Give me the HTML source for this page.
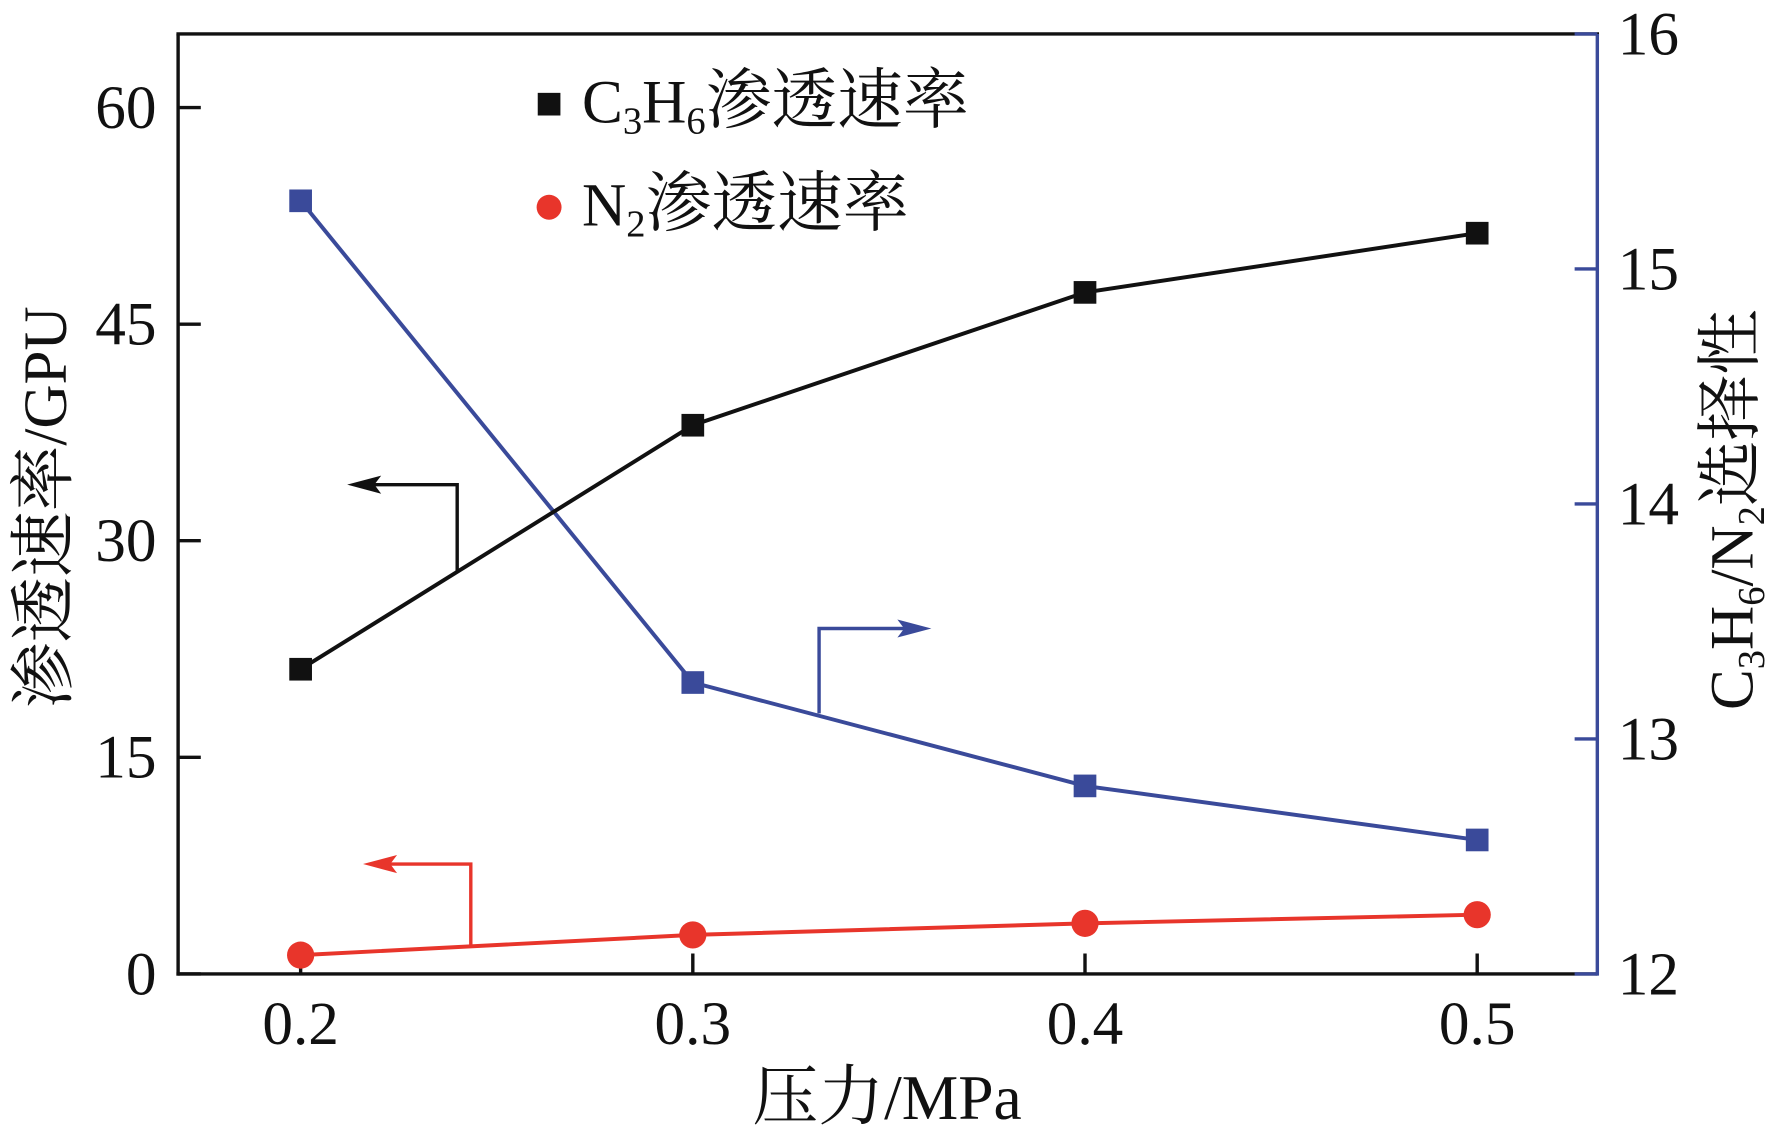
<!DOCTYPE html>
<html><head><meta charset="utf-8"><style>
html,body{margin:0;padding:0;background:#fff;}
svg{display:block;}
text{font-family:"Liberation Serif","Noto Serif CJK SC","Noto Sans CJK SC",serif;fill:#111;}
</style></head><body>
<svg id="chart" width="1776" height="1139" viewBox="0 0 1565.5 1005.8" preserveAspectRatio="none" xmlns="http://www.w3.org/2000/svg"></svg>
<script>
const categories = [0.2, 0.3, 0.4, 0.5];
const c3h6Values = [21.1, 38.0, 47.2, 51.3];
const n2Values = [1.3, 2.7, 3.5, 4.1];
const selectivityValues = [15.29, 13.24, 12.80, 12.57];
const leftTicks = [0, 15, 30, 45, 60];
const rightTicks = [12, 13, 14, 15, 16];
const xTickLabels = ["0.2", "0.3", "0.4", "0.5"];

const svg = document.getElementById('chart');
const NS = 'http://www.w3.org/2000/svg';
const L = 157, R = 1408, T = 30, B = 860;
const BLUE = '#3a4a9a', RED = '#e8352b';
function xs(v){ return 265 + (v - 0.2) / 0.1 * 345.7; }
function yl(v){ return 860 - v * 12.75; }
function yr(v){ return 860 - (v - 12) * 207.5; }
function mk(tag, attrs, parent){
  const e = document.createElementNS(NS, tag);
  for (const k in attrs) e.setAttribute(k, attrs[k]);
  (parent || svg).appendChild(e);
  return e;
}

let e;
e = mk('line', {x1:L, y1:T, x2:L, y2:B+1.5, stroke:'#111', 'stroke-width':3});
 
e = mk('line', {x1:L-1.5, y1:B, x2:R, y2:B, stroke:'#111', 'stroke-width':3});
 
e = mk('line', {x1:L-1.5, y1:T, x2:R+1.5, y2:T, stroke:'#111', 'stroke-width':3});
 
e = mk('line', {x1:R, y1:T, x2:R, y2:B+1.5, stroke:BLUE, 'stroke-width':3});
 

leftTicks.forEach(v => {
  const y = yl(v);
  let t = mk('line', {x1:L, y1:y, x2:L+20, y2:y, stroke:'#111', 'stroke-width':3});
   
  let tx = mk('text', {x:138, y:y+18, 'text-anchor':'end', 'font-size':54});
  tx.textContent = v;
   
});
rightTicks.forEach(v => {
  const y = yr(v);
  let t = mk('line', {x1:R, y1:y, x2:R-20, y2:y, stroke:BLUE, 'stroke-width':3});
   
  let tx = mk('text', {x:1426, y:y+18, 'text-anchor':'start', 'font-size':54});
  tx.textContent = v;
   
});
categories.forEach((c, i) => {
  const x = xs(c);
  let t = mk('line', {x1:x, y1:B, x2:x, y2:B-18, stroke:'#111', 'stroke-width':3});
   
  let tx = mk('text', {x:x, y:922, 'text-anchor':'middle', 'font-size':54});
  tx.textContent = xTickLabels[i];
   
});

function line(vals, yf, color, name){
  const pts = vals.map((v,i) => xs(categories[i]) + ',' + yf(v)).join(' ');
  const p = mk('polyline', {points:pts, fill:'none', stroke:color, 'stroke-width':3.5});
   
}
line(selectivityValues, yr, BLUE, 'selectivity-line');
line(c3h6Values, yl, '#111', 'c3h6-line');
line(n2Values, yl, RED, 'n2-line');
selectivityValues.forEach((v,i) => {
  const r = mk('rect', {x:xs(categories[i])-10, y:yr(v)-10, width:20, height:20, fill:BLUE});
   
});
c3h6Values.forEach((v,i) => {
  const r = mk('rect', {x:xs(categories[i])-10, y:yl(v)-10, width:20, height:20, fill:'#111'});
   
});
n2Values.forEach((v,i) => {
  const c = mk('circle', {cx:xs(categories[i]), cy:yl(v), r:12, fill:RED});
   
});
</script>
<script>
(function(){
  const svg = document.getElementById('chart');
  const NS = 'http://www.w3.org/2000/svg';
  const g = document.createElementNS(NS, 'g');
  g.innerHTML = `
  <g>
    <polyline points="403,505 403,428 322,428" fill="none" stroke="#111" stroke-width="3"/>
    <polygon points="306,428 336,420 330,428 336,436" fill="#111"/>
  </g>
  <g>
    <polyline points="722,630 722,555 805,555" fill="none" stroke="#3a4a9a" stroke-width="3"/>
    <polygon points="821,555 791,547 797,555 791,563" fill="#3a4a9a"/>
  </g>
  <g>
    <polyline points="415,835 415,763 336,763" fill="none" stroke="#e8352b" stroke-width="3"/>
    <polygon points="320,763 350,755 344,763 350,771" fill="#e8352b"/>
  </g>
  <g>
    <g>
      <rect x="474" y="82" width="20" height="20" fill="#111"/>
      <text x="513" y="108" font-size="54">C<tspan font-size="34" dy="10">3</tspan><tspan dy="-10">H</tspan><tspan font-size="34" dy="10">6</tspan><tspan dy="-10" font-size="58">渗透速率</tspan></text>
    </g>
    <g>
      <circle cx="484" cy="183" r="11" fill="#e8352b"/>
      <text x="513" y="199" font-size="54">N<tspan font-size="34" dy="10">2</tspan><tspan dy="-10" font-size="58">渗透速率</tspan></text>
    </g>
  </g>
  <text x="782" y="988" text-anchor="middle" font-size="56"><tspan font-size="58">压力</tspan>/MPa</text>
  <text transform="translate(58,448) rotate(-90)" text-anchor="middle" font-size="54"><tspan font-size="58">渗透速率</tspan>/GPU</text>
  <text transform="translate(1545,450) rotate(-90)" text-anchor="middle" font-size="54">C<tspan font-size="34" dy="10">3</tspan><tspan dy="-10">H</tspan><tspan font-size="34" dy="10">6</tspan><tspan dy="-10">/N</tspan><tspan font-size="34" dy="10">2</tspan><tspan dy="-10" font-size="58">选择性</tspan></text>
  `;
  svg.appendChild(g);
})();
</script>
</body></html>
